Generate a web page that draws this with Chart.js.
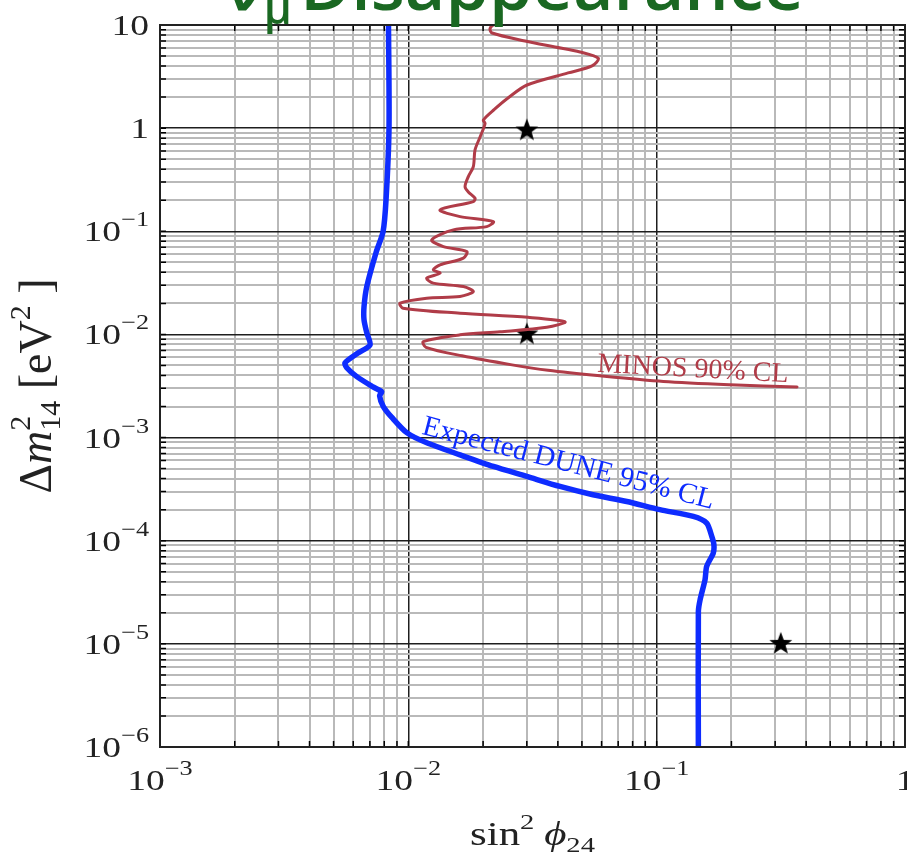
<!DOCTYPE html>
<html>
<head>
<meta charset="utf-8">
<script src="https://cdn.jsdelivr.net/npm/chart.js@4.4.1/dist/chart.umd.min.js"></script>
<style>
  html, body { margin: 0; padding: 0; background: #fff; overflow: hidden; }
  #wrap { position: relative; width: 907px; height: 857px; overflow: hidden; }
  canvas { position: absolute; left: 0; top: 0; }
</style>
</head>
<body>
<div id="wrap"><canvas id="chart" width="960" height="857"></canvas></div>
<script>
// Expected DUNE 95% CL contour (sin^2 phi24, dm2_14 in eV^2)
const duneX = [0.00832, 0.00836, 0.00813, 0.00791, 0.00741, 0.0068, 0.00663, 0.00663, 0.0068, 0.00701,
  0.00627, 0.00556, 0.00565, 0.0062, 0.00721, 0.00781, 0.00766, 0.00793, 0.0086, 0.00988,
  0.01186, 0.01615, 0.022, 0.030, 0.0408, 0.0554, 0.0758, 0.103, 0.1405, 0.159,
  0.1667, 0.170, 0.169, 0.159, 0.1566, 0.1496, 0.1472, 0.1472];
const duneY = [10, 1.0, 0.2, 0.099, 0.062, 0.029, 0.0185, 0.0139, 0.0104, 0.0079,
  0.0066, 0.0053, 0.00475, 0.0039, 0.0031, 0.00278, 0.00254, 0.002, 0.00156, 0.00111,
  0.00089, 0.00068, 0.000525, 0.00042, 0.000336, 0.000279, 0.00024, 0.0002, 0.000172, 0.000148,
  0.00011, 0.0000915, 0.000076, 0.0000564, 0.0000419, 0.0000268, 0.0000205, 0.000001];

// MINOS 90% CL contour
const minosX = [0.0252, 0.0222, 0.02133, 0.02173, 0.02951, 0.03898, 0.04914, 0.0582, 0.0549, 0.04397, 0.03006,
  0.0252, 0.0222, 0.02005, 0.02037, 0.01945, 0.01856, 0.01827, 0.01744, 0.01692, 0.01744,
  0.01856, 0.01827, 0.01342, 0.01615, 0.022, 0.02069, 0.01518, 0.01242, 0.01384, 0.01719,
  0.01666, 0.01342, 0.0126, 0.01342, 0.01186, 0.0126, 0.01666, 0.01827, 0.01615, 0.01186,
  0.00926, 0.00952, 0.01615, 0.03034, 0.04277, 0.03609, 0.0234, 0.01615, 0.01149, 0.01178,
  0.01646, 0.02616, 0.03652, 0.05916, 0.1064, 0.1975, 0.3675];
const minosY = [11.5, 10.2, 9.2, 8.37, 7.0, 6.12, 5.48, 4.76, 4.01, 3.43, 2.62,
  1.96, 1.52, 1.20, 1.11, 0.822, 0.615, 0.4235, 0.3388, 0.271, 0.2408,
  0.2093, 0.194, 0.1612, 0.1388, 0.1242, 0.111, 0.1032, 0.0825, 0.0711, 0.0636,
  0.0549, 0.0472, 0.04227, 0.03926, 0.0351, 0.03142, 0.02911, 0.02604, 0.0233, 0.02247,
  0.0201, 0.01798, 0.01608, 0.01464, 0.01325, 0.01172, 0.0106, 0.00991, 0.00853, 0.0075,
  0.0062, 0.00507, 0.00449, 0.00397, 0.0035, 0.00325, 0.00309];

// benchmark points
const starX = [0.03, 0.03, 0.316];
const starY = [0.95, 0.01, 1e-5];

// axis labels
const xTickValues = [1e-3, 1e-2, 1e-1, 1];
const xTickLabels = [["10", "−3"], ["10", "−2"], ["10", "−1"], ["1", ""]];
const yTickValues = [10, 1, 1e-1, 1e-2, 1e-3, 1e-4, 1e-5, 1e-6];
const yTickLabels = [["10", ""], ["1", ""], ["10", "−1"], ["10", "−2"], ["10", "−3"], ["10", "−4"], ["10", "−5"], ["10", "−6"]];
const minorMults = [1, 2, 3, 4, 5, 6, 7, 8, 9];

const BLUE = "rgb(14, 44, 255)";
const RED = "rgb(176, 60, 72)";
const GREEN = "rgb(26, 104, 34)";
const SERIF = '"Liberation Serif", "DejaVu Serif", serif';

function gridValues(lo, hi) {
	const out = [];
	for (let e = lo; e < hi; e++) {
		minorMults.forEach((m) => out.push(+(m * Math.pow(10, e)).toPrecision(3)));
	}
	out.push(Math.pow(10, hi));
	return out;
}
const xGrid = gridValues(-3, 0);
const yGrid = gridValues(-6, 1);

function isDecade(v) {
	const l = Math.log10(v);
	return Math.abs(l - Math.round(l)) < 1e-9;
}

function gridColor(c) {
	if (!c.tick) return "rgb(185,185,185)";
	return isDecade(c.tick.value) ? "rgb(30,30,30)" : "rgb(185,185,185)";
}

function gridWidth(c) {
	if (!c.tick) return 2;
	return isDecade(c.tick.value) ? 1.5 : 2;
}

function makeStar(r) {
	const c = document.createElement("canvas");
	c.width = c.height = Math.ceil(r * 2 + 2);
	const g = c.getContext("2d");
	g.translate(c.width / 2, c.height / 2);
	g.beginPath();
	for (let i = 0; i < 10; i++) {
		const rad = i % 2 ? r * 0.42 : r;
		const a = -Math.PI / 2 + (i * Math.PI) / 5;
		g.lineTo(rad * Math.cos(a), rad * Math.sin(a));
	}
	g.closePath();
	g.fillStyle = "#000";
	g.fill();
	return c;
}

// draw text made of pieces (base, superscripts, subscripts)
function richText(ctx, parts, x, y, align, sx) {
	let total = 0;
	parts.forEach((p) => {
		ctx.font = (p.it ? "italic " : "") + p.size + "px " + SERIF;
		p.w = ctx.measureText(p.t).width;
		if (p.adv !== false) total += p.w;
	});
	ctx.save();
	ctx.translate(x, y);
	ctx.scale(sx, 1);
	let cx = align === "center" ? -total / 2 : align === "right" ? -total : 0;
	ctx.textAlign = "left";
	ctx.textBaseline = "alphabetic";
	parts.forEach((p) => {
		ctx.font = (p.it ? "italic " : "") + p.size + "px " + SERIF;
		ctx.fillText(p.t, cx, p.dy || 0);
		if (p.adv !== false) cx += p.w;
	});
	ctx.restore();
}

function tickParts(lab, big, small, up) {
	const parts = [{ t: lab[0], size: big }];
	if (lab[1]) parts.push({ t: lab[1], size: small, dy: -up });
	return parts;
}

function curveLabel(ctx, text, px, py, angle, size, color) {
	ctx.save();
	ctx.translate(px, py);
	ctx.rotate((angle * Math.PI) / 180);
	ctx.font = size + "px " + SERIF;
	ctx.fillStyle = color;
	ctx.textAlign = "left";
	ctx.textBaseline = "alphabetic";
	ctx.fillText(text, 0, 0);
	ctx.restore();
}

const decorPlugin = {
	id: "decor",
	afterDraw(chart) {
		const ctx = chart.ctx;
		const xs = chart.scales.x;
		const ys = chart.scales.y;
		const a = chart.chartArea;

		// inward tick marks
		ctx.save();
		ctx.strokeStyle = "#000";
		ctx.lineWidth = 1.5;
		ctx.beginPath();
		xGrid.forEach((v) => {
			const px = xs.getPixelForValue(v);
			ctx.moveTo(px, a.bottom);
			ctx.lineTo(px, a.bottom - 6);
			ctx.moveTo(px, a.top);
			ctx.lineTo(px, a.top + 6);
		});
		yGrid.forEach((v) => {
			const py = ys.getPixelForValue(v);
			ctx.moveTo(a.left, py);
			ctx.lineTo(a.left + 6, py);
			ctx.moveTo(a.right, py);
			ctx.lineTo(a.right - 6, py);
		});
		ctx.stroke();
		ctx.lineWidth = 2;
		ctx.strokeStyle = "#222";
		ctx.strokeRect(a.left, a.top, a.right - a.left, a.bottom - a.top);
		ctx.restore();

		// tick labels
		ctx.save();
		ctx.fillStyle = "#222";
		yTickValues.forEach((v, i) => {
			const py = ys.getPixelForValue(v);
			richText(ctx, tickParts(yTickLabels[i], 30, 21, 15), a.left - 11, py + 10, "right", 1.25);
		});
		xTickValues.forEach((v, i) => {
			const px = xs.getPixelForValue(v);
			richText(ctx, tickParts(xTickLabels[i], 30, 21, 15), px, a.bottom + 43, "center", 1.25);
		});

		// axis titles
		richText(ctx, [
			{ t: "sin", size: 33 },
			{ t: "2", size: 22, dy: -16 },
			{ t: " ", size: 30 },
			{ t: "ϕ", size: 33, it: true },
			{ t: "24", size: 22, dy: 7 },
		], (a.left + a.right) / 2, a.bottom + 98, "center", 1.3);

		ctx.save();
		ctx.translate(51, (a.top + a.bottom) / 2);
		ctx.rotate(-Math.PI / 2);
		richText(ctx, [
			{ t: "Δ", size: 46 },
			{ t: "m", size: 46, it: true },
			{ t: "2", size: 30, dy: -21, adv: false },
			{ t: "14", size: 30, dy: 9 },
			{ t: " [eV", size: 46 },
			{ t: "2", size: 30, dy: -21 },
			{ t: " ]", size: 46 },
		], 0, 0, "center", 1);
		ctx.restore();
		ctx.restore();

		// curve labels
		curveLabel(ctx, "MINOS 90% CL", xs.getPixelForValue(0.0575), ys.getPixelForValue(0.00435), 3.1, 28, RED);
		curveLabel(ctx, "Expected DUNE 95% CL", xs.getPixelForValue(0.01125), ys.getPixelForValue(0.001088), 14.5, 29, BLUE);

		// title, cut by the top edge
		ctx.save();
		ctx.fillStyle = GREEN;
		ctx.textBaseline = "alphabetic";
		ctx.font = '600 70px "Open Sans", sans-serif';
		let tx = 224;
		ctx.fillText("ν", tx, 10);
		tx += ctx.measureText("ν").width;
		ctx.font = '600 44px "Open Sans", sans-serif';
		ctx.fillText("μ", tx, 24);
		tx += ctx.measureText("μ").width + 8;
		ctx.font = '600 70px "Open Sans", sans-serif';
		ctx.fillText("Disappearance", tx, 10);
		ctx.restore();
	},
};

const ctx = document.getElementById("chart").getContext("2d");

new Chart(ctx, {
	type: "scatter",
	data: {
		datasets: [
			{
				label: "MINOS 90% CL",
				data: minosX.map((x, i) => ({ x: x, y: minosY[i] })),
				showLine: true,
				borderColor: RED,
				borderWidth: 3,
				tension: 0.3,
				pointRadius: 0,
				borderJoinStyle: "round",
				borderCapStyle: "round",
			},
			{
				label: "Expected DUNE 95% CL",
				data: duneX.map((x, i) => ({ x: x, y: duneY[i] })),
				showLine: true,
				borderColor: BLUE,
				borderWidth: 5.5,
				tension: 0.25,
				pointRadius: 0,
				borderJoinStyle: "round",
				borderCapStyle: "round",
			},
			{
				label: "benchmarks",
				data: starX.map((x, i) => ({ x: x, y: starY[i] })),
				pointStyle: makeStar(12),
				pointRadius: 12,
			},
		],
	},
	options: {
		responsive: false,
		devicePixelRatio: 1,
		animation: false,
		events: [],
		layout: { autoPadding: false, padding: { top: 25, right: 55, left: 0, bottom: 0 } },
		plugins: { legend: { display: false }, tooltip: { enabled: false }, title: { display: false } },
		scales: {
			x: {
				type: "logarithmic",
				min: 1e-3,
				max: 1,
				afterBuildTicks: (s) => { s.ticks = xGrid.map((v) => ({ value: v })); },
				afterFit: (s) => { s.height = 110; },
				ticks: { display: false },
				grid: { color: gridColor, lineWidth: gridWidth, drawTicks: false },
				border: { display: true, color: "#222", width: 2 },
			},
			y: {
				type: "logarithmic",
				min: 1e-6,
				max: 10,
				afterBuildTicks: (s) => { s.ticks = yGrid.map((v) => ({ value: v })); },
				afterFit: (s) => { s.width = 160; },
				ticks: { display: false },
				grid: { color: gridColor, lineWidth: gridWidth, drawTicks: false },
				border: { display: true, color: "#222", width: 2 },
			},
		},
	},
	plugins: [decorPlugin],
});
</script>
</body>
</html>
